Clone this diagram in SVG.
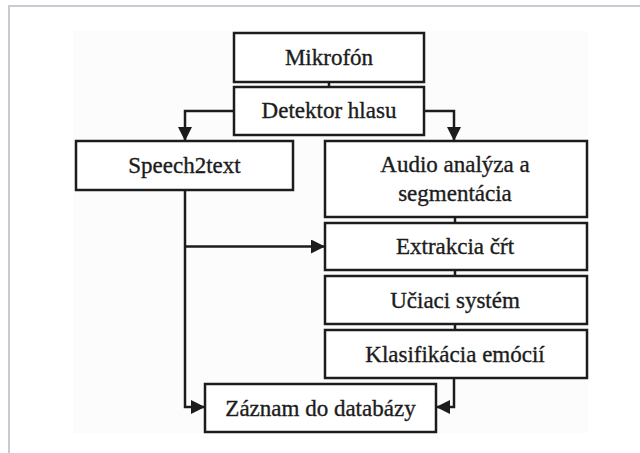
<svg xmlns="http://www.w3.org/2000/svg" width="640" height="453" viewBox="0 0 640 453">
  <style>
    .box { fill: #ffffff; stroke: #1c1c1c; stroke-width: 2.5; }
    .lbl { font-family: 'Liberation Serif', Tinos, 'Times New Roman', 'DejaVu Serif', serif; font-size: 23px; fill: #1c1c1c; stroke: #1c1c1c; stroke-width: 0.35; text-anchor: middle; }
    .wire { fill: none; stroke: #1c1c1c; stroke-width: 2.5; }
  </style>
  <defs>
    <marker id="arrow" viewBox="0 0 14 14" refX="14" refY="7" markerWidth="14" markerHeight="14" markerUnits="userSpaceOnUse" orient="auto">
      <path d="M0,0 L14,7 L0,14 Z" fill="#1c1c1c"/>
    </marker>
  </defs>

  <!-- page frame and figure background -->
  <rect x="0" y="0" width="640" height="453" fill="#ffffff"/>
  <path d="M9,453 V6 H640" fill="none" stroke="#cacad2" stroke-width="2"/>
  <rect x="73" y="31" width="515" height="402" fill="#fcfcfc"/>

  <!-- connectors -->
  <g id="connectors">
    <line class="wire" x1="329" y1="82" x2="329" y2="87"/>
    <path class="wire" d="M234,111 H185 V141" marker-end="url(#arrow)"/>
    <path class="wire" d="M424,111 H454 V141" marker-end="url(#arrow)"/>
    <line class="wire" x1="455" y1="217" x2="455" y2="223"/>
    <line class="wire" x1="455" y1="270" x2="455" y2="276"/>
    <line class="wire" x1="455" y1="324" x2="455" y2="330"/>
    <path class="wire" d="M185,190 V407 H205" marker-end="url(#arrow)"/>
    <path class="wire" d="M185,246.5 H325" marker-end="url(#arrow)"/>
    <path class="wire" d="M454,378 V407 H436" marker-end="url(#arrow)"/>
  </g>

  <g id="mikrofon">
    <rect class="box" x="234" y="33" width="190" height="49"/>
    <text class="lbl" x="329" y="65">Mikrofón</text>
  </g>
  <g id="detektor">
    <rect class="box" x="234" y="87" width="190" height="48"/>
    <text class="lbl" x="329" y="118">Detektor hlasu</text>
  </g>
  <g id="speech2text">
    <rect class="box" x="76" y="141" width="217" height="49"/>
    <text class="lbl" x="184.5" y="173">Speech2text</text>
  </g>
  <g id="audio">
    <rect class="box" x="325" y="141" width="262" height="76"/>
    <text class="lbl" x="455" y="172">Audio analýza a</text>
    <text class="lbl" x="455" y="201">segmentácia</text>
  </g>
  <g id="extrakcia">
    <rect class="box" x="325" y="223" width="262" height="47"/>
    <text class="lbl" x="455" y="254">Extrakcia čŕt</text>
  </g>
  <g id="ucenie">
    <rect class="box" x="325" y="276" width="262" height="48"/>
    <text class="lbl" x="455" y="307.5">Učiaci systém</text>
  </g>
  <g id="klasifikacia">
    <rect class="box" x="325" y="330" width="262" height="48"/>
    <text class="lbl" x="455" y="361.5">Klasifikácia emócií</text>
  </g>
  <g id="zaznam">
    <rect class="box" x="205" y="384" width="231" height="48"/>
    <text class="lbl" x="320.5" y="415.5">Záznam do databázy</text>
  </g>
</svg>
